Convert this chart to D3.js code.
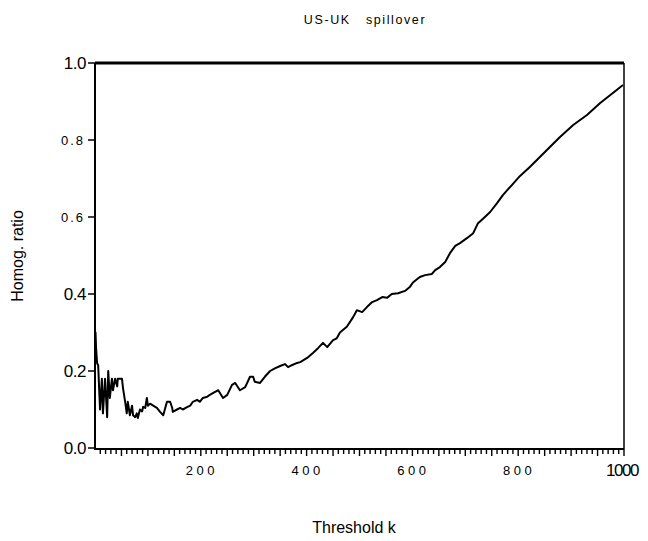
<!DOCTYPE html>
<html><head><meta charset="utf-8">
<script src="https://cdn.jsdelivr.net/npm/d3@7"></script>
<style>body{margin:0;background:#fff}svg{display:block}text{font-family:"Liberation Sans",Arial,sans-serif;fill:#000}</style>
</head><body>
<svg id="c" width="648" height="541"></svg>
<script>
const thresholdK = [0,1,2,4,6,9.5,13,15,19,23,25,28,32,34,38,42,43,47,51,53,57,60,62,66,70,72,76,79,81,85,89,91,95,98,100,104,110,117,123,129,132,136,142,146,147,155,161,166,174,180,185,193,198,204,212,217,227,233,242,250,259,265,274,284,293,299,302,312,321,331,340,350,359,365,372,382,388,401,412,422,431,439,450,457,463,476,488,495,505,514,524,533,543,552,561,573,586,595,601,614,624,637,643,652,662,671,681,690,703,715,724,733,747,760,771,788,803,822,841,860,879,904,930,955,979,998];
const homogRatio = [0.24,0.30,0.26,0.22,0.215,0.10,0.18,0.09,0.18,0.08,0.20,0.13,0.18,0.15,0.18,0.16,0.18,0.18,0.18,0.155,0.12,0.09,0.12,0.085,0.11,0.085,0.08,0.09,0.078,0.10,0.095,0.107,0.104,0.13,0.11,0.115,0.11,0.104,0.094,0.085,0.10,0.12,0.12,0.104,0.094,0.10,0.104,0.10,0.106,0.11,0.12,0.125,0.12,0.13,0.133,0.138,0.146,0.15,0.13,0.138,0.164,0.169,0.15,0.158,0.185,0.185,0.172,0.169,0.185,0.20,0.207,0.213,0.218,0.21,0.215,0.221,0.223,0.234,0.247,0.26,0.273,0.262,0.28,0.285,0.30,0.315,0.34,0.358,0.353,0.366,0.379,0.384,0.392,0.39,0.40,0.402,0.408,0.418,0.43,0.444,0.449,0.452,0.462,0.47,0.483,0.506,0.525,0.532,0.545,0.558,0.584,0.595,0.613,0.636,0.657,0.683,0.706,0.73,0.756,0.782,0.808,0.839,0.865,0.896,0.922,0.943];
const xTickLabels = ["200","400","600","800","1000"];
const yTickLabels = ["0.0","0.2","0.4","0.6","0.8","1.0"];
const titleText = "US-UK   spillover";
const xLabel = "Threshold k";
const yLabel = "Homog. ratio";

const svg = d3.select("#c");
const L = 95, R = 624, T = 63, B = 448;
const x = d3.scaleLinear().domain([0,1000]).range([L,R]);
const y = d3.scaleLinear().domain([0,1]).range([B,T]);

// title
svg.append("text").attr("x",365).attr("y",24).attr("text-anchor","middle")
  .attr("font-size",12.5).attr("letter-spacing","1.6px").attr("xml:space","preserve").style("white-space","pre").text(titleText);

// x minor/major ticks
const tks = d3.range(10,1001,10);
svg.append("g").selectAll("line").data(tks).join("line")
  .attr("x1",d=>x(d)).attr("x2",d=>x(d)).attr("y1",B+1).attr("y2",d=>B+1+(d%50===0?7:5))
  .attr("stroke","#000").attr("stroke-width",1.4);

// y ticks
const yvals = yTickLabels.map(Number);
svg.append("g").selectAll("line").data(yvals).join("line")
  .attr("x1",L-7).attr("x2",L).attr("y1",d=>y(d)).attr("y2",d=>y(d))
  .attr("stroke","#000").attr("stroke-width",1.5);

// axes
svg.append("line").attr("x1",L).attr("x2",L).attr("y1",T).attr("y2",B+1).attr("stroke","#000").attr("stroke-width",2);
svg.append("line").attr("x1",L-1).attr("x2",R).attr("y1",B+1).attr("y2",B+1).attr("stroke","#000").attr("stroke-width",2);
svg.append("line").attr("x1",L).attr("x2",R).attr("y1",T).attr("y2",T).attr("stroke","#000").attr("stroke-width",3);
svg.append("line").attr("x1",R).attr("x2",R).attr("y1",T).attr("y2",B+1).attr("stroke","#000").attr("stroke-width",1.5);

// y tick labels
const bigY = {"1.0":true,"0.4":true,"0.2":true,"0.0":true};
svg.append("g").selectAll("text").data(yTickLabels).join("text")
  .attr("x",d=>bigY[d]?86:85).attr("y",d=>y(+d)+ (bigY[d]?6:5))
  .attr("text-anchor","end")
  .attr("font-size",d=>bigY[d]?17:13)
  .attr("letter-spacing",d=>bigY[d]?"-0.5px":"2px")
  .text(d=>d);

// x tick labels
svg.append("g").selectAll("text").data(xTickLabels).join("text")
  .attr("x",d=>x(+d) + (d==="1000"?-2:1)).attr("y",d=>d==="1000"?476:475)
  .attr("text-anchor","middle")
  .attr("font-size",d=>d==="1000"?17:13)
  .attr("letter-spacing",d=>d==="1000"?"-1.5px":"3.5px")
  .text(d=>d);

// axis labels
svg.append("text").attr("x",354).attr("y",533).attr("text-anchor","middle").attr("font-size",16).text(xLabel);
svg.append("text").attr("transform","translate(23,256) rotate(-90)").attr("text-anchor","middle").attr("font-size",16).text(yLabel);

// curve
const line = d3.line().x((d,i)=>x(thresholdK[i])).y(d=>y(d));
svg.append("path").datum(homogRatio).attr("d",line).attr("fill","none")
  .attr("stroke","#000").attr("stroke-width",2).attr("stroke-linejoin","round");
</script>
</body></html>
